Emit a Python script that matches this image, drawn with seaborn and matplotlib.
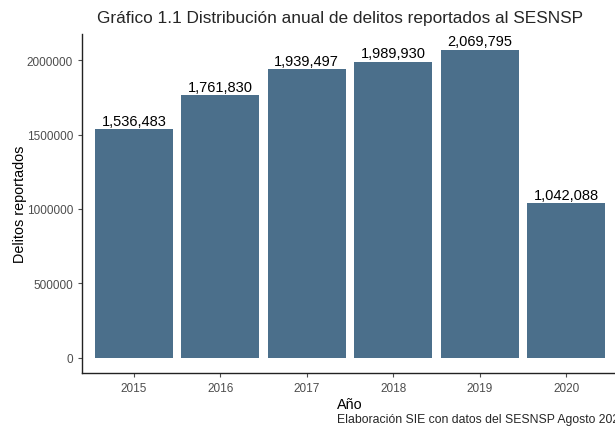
import matplotlib
matplotlib.use("Agg")
import matplotlib.pyplot as plt
import seaborn as sns
import pandas as pd

anios = ["2015", "2016", "2017", "2018", "2019", "2020"]
delitos = [1536483, 1761830, 1939497, 1989930, 2069795, 1042088]
ticks_y = [0, 500000, 1000000, 1500000, 2000000]

df = pd.DataFrame({"anio": anios, "delitos": delitos})

sns.set_style("ticks")
plt.rcParams["font.family"] = ["Liberation Sans", "DejaVu Sans"]

fig = plt.figure(figsize=(6.15, 4.27), dpi=100)
ax = fig.add_axes([82 / 615, (427 - 374.4) / 427, (618 - 82) / 615, (374.4 - 35.2) / 427])

sns.barplot(data=df, x="anio", y="delitos", color="#4b6f8b", saturation=1,
            width=0.9, linewidth=0, ax=ax)

for i, v in enumerate(delitos):
    ax.text(i, v + 8000, f"{v:,}", ha="center", va="bottom", fontsize=10.5,
            color="black")

ymax = max(delitos)
ax.set_ylim(-0.05 * ymax, 1.05 * ymax)
ax.set_xlim(-0.6, len(anios) - 0.4)
ax.set_yticks(ticks_y)
ax.set_yticklabels([str(t) for t in ticks_y])

ax.tick_params(axis="both", labelsize=8.5, colors="#4d4d4d", length=3,
               width=0.8)
for lbl in ax.get_xticklabels() + ax.get_yticklabels():
    lbl.set_color("#4d4d4d")

sns.despine(ax=ax)
for s in ["left", "bottom"]:
    ax.spines[s].set_linewidth(1.0)
    ax.spines[s].set_color("#222222")

ax.set_xlabel("Año", fontsize=10.4, color="black", labelpad=2)
ax.set_ylabel("Delitos reportados", fontsize=10.4, color="black", labelpad=0)

fig.text(340 / 615, 1 - 18 / 427,
         "Gráfico 1.1 Distribución anual de delitos reportados al SESNSP",
         ha="center", va="center", fontsize=12.4)
fig.text(626 / 615, 1 - 420 / 427,
         "Elaboración SIE con datos del SESNSP Agosto 2020",
         ha="right", va="center", fontsize=8.8)

fig.savefig("out.png", dpi=100)
plt.close(fig)
